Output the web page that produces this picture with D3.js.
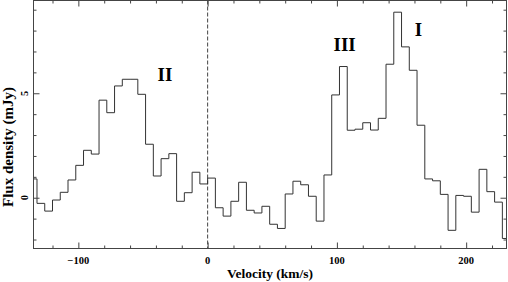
<!DOCTYPE html>
<html>
<head>
<meta charset="utf-8">
<script src="https://cdn.jsdelivr.net/npm/d3@7"></script>
<style>
	body { margin: 0; background: #fff; }
	svg text { font-family: "Liberation Serif", "Times New Roman", serif; font-weight: bold; fill: #000; }
	.hist { fill: none; stroke: #333; stroke-width: 1; }
	.frame { fill: none; stroke: #444; stroke-width: 1; }
	.tick line { stroke: #444; }
</style>
</head>
<body>
<svg width="508" height="282" id="spectrum"></svg>
<script>

	// bin centres (km/s), 6 km/s channels
	var velocity = [-135, -129, -123, -117, -111, -105, -99, -93, -87, -81, -75, -69, -63, -57, -51,
		-45, -39, -33, -27, -21, -15, -9, -3, 3, 9, 15, 21, 27, 33, 39, 45, 51, 57, 63, 69, 75, 81,
		87, 93, 99, 105, 111, 117, 123, 129, 135, 141, 147, 153, 159, 165, 171, 177, 183, 189, 195,
		201, 207, 213, 219, 225, 231];

	// flux density (mJy)
	var flux = [0.90, -0.27, -0.64, -0.11, 0.26, 0.85, 1.55, 2.27, 2.09, 4.67, 4.07, 5.35, 5.67, 5.67,
		4.95, 2.56, 1.04, 1.87, 2.11, -0.17, 0.24, 1.22, 0.66, 0.94, -0.48, -0.88, -0.17, 0.74, -0.60,
		-0.73, -0.41, -1.27, -1.47, 0.18, 0.79, 0.62, 0.07, -1.12, 1.09, 4.92, 6.28, 3.23, 3.28, 3.59,
		3.24, 3.80, 6.39, 8.88, 7.22, 6.10, 3.47, 0.90, 0.81, 0.16, -1.56, 0.11, 0.07, -0.69, 1.36,
		0.29, -0.21, -1.95];

	var binWidth = 6;

	var xMajor = [-100, 0, 100, 200];
	var xMinor = [-120, -80, -60, -40, -20, 20, 40, 60, 80, 120, 140, 160, 180, 220];
	var yMajor = [0, 5];
	var yMinor = [-2, -1, 1, 2, 3, 4, 6, 7, 8, 9];

	var components = [
		{ label: "II", v: -33, f: 5.6 },
		{ label: "III", v: 106, f: 7.0 },
		{ label: "I", v: 163, f: 7.75 }
	];

	var svg = d3.select("svg#spectrum"),
		plot = { left: 33.5, right: 506.5, top: 0.5, bottom: 248.5 };

	var x = d3.scaleLinear()
		.domain([-134.7, 231.2])
		.range([plot.left, plot.right]);

	var y = d3.scaleLinear()
		.domain([-2.43, 9.44])
		.range([plot.bottom, plot.top]);

	svg.append("clipPath").attr("id", "plotclip")
		.append("rect")
		.attr("x", plot.left).attr("y", plot.top)
		.attr("width", plot.right - plot.left).attr("height", plot.bottom - plot.top);

	// zero velocity marker
	svg.append("line")
		.attr("x1", x(0)).attr("x2", x(0))
		.attr("y1", plot.top).attr("y2", plot.bottom)
		.attr("stroke", "#444")
		.attr("stroke-dasharray", "4,2");

	// histogram
	var pts = [];
	velocity.forEach(function(v, i) {
		pts.push([v - binWidth / 2, flux[i]]);
		pts.push([v + binWidth / 2, flux[i]]);
	});

	svg.append("path")
		.datum(pts)
		.attr("class", "hist")
		.attr("clip-path", "url(#plotclip)")
		.attr("d", d3.line()
			.x(function(d) { return x(d[0]); })
			.y(function(d) { return y(d[1]); }));

	// ticks on all four sides, pointing in
	function ticks(axis, scale, values, size, transform) {
		svg.append("g")
			.attr("transform", transform)
			.call(axis(scale).tickValues(values).tickSize(-size).tickFormat(""))
			.call(function(g) { g.select(".domain").remove(); });
	}
	ticks(d3.axisBottom, x, xMajor, 6, "translate(0," + plot.bottom + ")");
	ticks(d3.axisBottom, x, xMinor, 3, "translate(0," + plot.bottom + ")");
	ticks(d3.axisTop, x, xMajor, 6, "translate(0," + plot.top + ")");
	ticks(d3.axisTop, x, xMinor, 3, "translate(0," + plot.top + ")");
	ticks(d3.axisLeft, y, yMajor, 6, "translate(" + plot.left + ",0)");
	ticks(d3.axisLeft, y, yMinor, 3, "translate(" + plot.left + ",0)");
	ticks(d3.axisRight, y, yMajor, 6, "translate(" + plot.right + ",0)");
	ticks(d3.axisRight, y, yMinor, 3, "translate(" + plot.right + ",0)");

	svg.append("rect")
		.attr("class", "frame")
		.attr("x", plot.left).attr("y", plot.top)
		.attr("width", plot.right - plot.left).attr("height", plot.bottom - plot.top);

	// x tick labels
	svg.selectAll(".xlab")
		.data(xMajor)
		.enter().append("text")
		.attr("class", "xlab")
		.attr("x", function(d) { return x(d); })
		.attr("y", 264)
		.attr("text-anchor", "middle")
		.style("font-size", "10.5px")
		.text(function(d) { return d < 0 ? "\u2212" + Math.abs(d) : d; });

	// y tick labels (rotated)
	svg.selectAll(".ylab")
		.data(yMajor)
		.enter().append("text")
		.attr("class", "ylab")
		.attr("transform", function(d) { return "translate(28," + y(d) + ") rotate(-90)"; })
		.attr("text-anchor", "middle")
		.style("font-size", "10.5px")
		.text(function(d) { return d; });

	// axis titles
	svg.append("text")
		.attr("x", 270)
		.attr("y", 278)
		.attr("text-anchor", "middle")
		.style("font-size", "13.5px")
		.text("Velocity (km/s)");

	svg.append("text")
		.attr("transform", "translate(12.5,147) rotate(-90)")
		.attr("text-anchor", "middle")
		.style("font-size", "15px")
		.text("Flux density (mJy)");

	// component labels
	svg.selectAll(".comp")
		.data(components)
		.enter().append("text")
		.attr("class", "comp")
		.attr("x", function(d) { return x(d.v); })
		.attr("y", function(d) { return y(d.f); })
		.attr("text-anchor", "middle")
		.style("font-size", "19px")
		.text(function(d) { return d.label; });
</script>
</body>
</html>
